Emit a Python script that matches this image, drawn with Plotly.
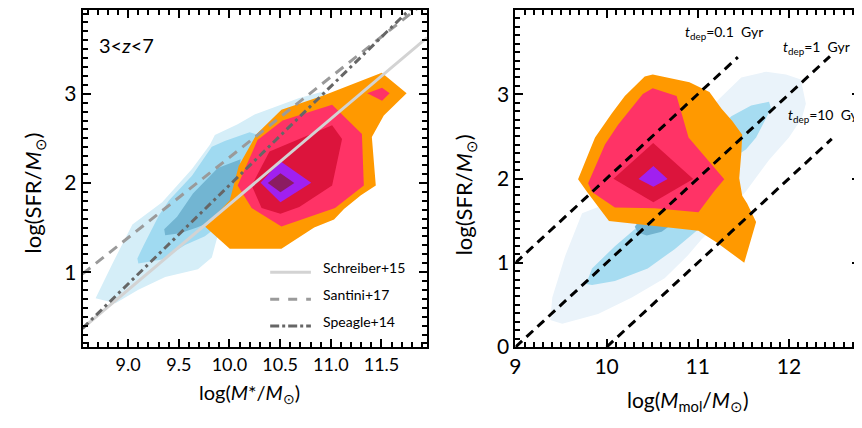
import plotly.graph_objects as go

FONT = "Lato"

# ---------------- Left panel data (log M*, log SFR) ----------------
L_lblue_x = [8.679, 8.875, 9.101, 9.366, 9.689, 9.826, 9.885, 10.150, 10.738, 11.032, 10.934, 10.689, 10.248, 10.081, 9.856, 9.807, 9.630, 9.336, 9.042, 8.846]
L_lblue_y = [0.706, 0.651, 0.804, 0.945, 1.033, 1.164, 1.414, 1.589, 2.189, 2.898, 3.028, 2.952, 2.767, 2.658, 2.538, 2.429, 2.156, 1.785, 1.534, 1.098]
L_mblue_x = [9.101, 9.336, 9.562, 9.758, 9.905, 10.150, 10.346, 10.199, 9.954, 9.826, 9.630, 9.405, 9.307, 9.150, 9.091]
L_mblue_y = [1.098, 1.142, 1.305, 1.403, 1.534, 2.080, 2.516, 2.570, 2.472, 2.407, 2.080, 1.807, 1.643, 1.294, 1.153]
L_dblue_x = [9.366, 9.513, 9.679, 9.875, 10.032, 10.111, 9.885, 9.640, 9.483, 9.356]
L_dblue_y = [1.414, 1.436, 1.502, 1.589, 1.698, 2.265, 2.167, 1.883, 1.622, 1.480]
L_orange_x = [10.268, 10.513, 10.934, 11.503, 11.748, 11.523, 11.405, 11.444, 11.297, 11.130, 11.032, 10.836, 10.513, 10.003, 9.758, 10.003, 10.091]
L_orange_y = [2.549, 2.821, 2.985, 3.236, 3.007, 2.756, 2.516, 1.971, 1.862, 1.709, 1.589, 1.502, 1.262, 1.262, 1.513, 1.807, 2.189]
L_pink_x = [10.524, 11.013, 11.307, 11.326, 11.042, 10.513, 10.219, 10.081, 10.277]
L_pink_y = [2.701, 2.876, 2.549, 1.971, 1.720, 1.513, 1.720, 1.971, 2.483]
L_pink2_x = [11.359, 11.506, 11.581, 11.506]
L_pink2_y = [3.007, 3.069, 3.007, 2.923]
L_crimson_x = [11.013, 11.111, 11.013, 10.689, 10.503, 10.317, 10.219, 10.395]
L_crimson_y = [2.647, 2.494, 1.971, 1.731, 1.654, 1.720, 1.971, 2.352]
L_purple_x = [10.503, 10.807, 10.503, 10.307]
L_purple_y = [2.243, 2.003, 1.785, 2.003]
L_maroon_x = [10.503, 10.640, 10.503, 10.378]
L_maroon_y = [2.109, 2.000, 1.897, 2.000]

# main-sequence relations (end points)
schreiber_x = [8.55, 11.95]
schreiber_y = [0.37, 3.63]
santini_x = [8.55, 12.0]
santini_y = [0.98, 4.09]
speagle_x = [8.55, 12.0]
speagle_y = [0.37, 4.19]

# ---------------- Right panel data (log Mmol, log SFR) ----------------
R_lblue_x = [9.382, 9.513, 9.906, 10.277, 10.637, 10.888, 11.040, 11.259, 11.531, 11.782, 12.000, 12.142, 12.186, 12.131, 11.968, 11.750, 11.477, 11.237, 11.040, 10.386, 9.949, 9.731, 9.546, 9.404]
R_lblue_y = [0.322, 0.276, 0.391, 0.587, 0.817, 1.082, 1.277, 1.507, 1.853, 2.221, 2.486, 2.716, 2.888, 3.176, 3.234, 3.268, 3.199, 2.946, 2.716, 2.025, 1.680, 1.588, 1.082, 0.587]
R_mblue_x = [9.775, 9.840, 10.091, 10.451, 10.746, 10.931, 11.040, 11.455, 11.531, 11.640, 11.750, 11.804, 11.782, 11.586, 11.368, 11.040, 10.495, 10.353, 10.091, 9.840]
R_mblue_y = [0.748, 0.736, 0.783, 0.932, 1.162, 1.335, 1.427, 2.290, 2.348, 2.486, 2.716, 2.831, 2.911, 2.865, 2.739, 2.371, 1.623, 1.438, 1.197, 0.932]
R_dblue_x = [10.309, 10.342, 10.440, 10.604, 10.735, 10.604, 10.386]
R_dblue_y = [1.427, 1.358, 1.323, 1.369, 1.473, 1.565, 1.542]
R_orange_x = [9.687, 9.873, 10.058, 10.200, 10.418, 10.506, 10.909, 11.128, 11.259, 11.379, 11.488, 11.477, 11.455, 11.488, 11.542, 11.640, 11.510, 11.204, 11.008, 10.026, 9.786]
R_orange_y = [1.991, 2.486, 2.773, 2.980, 3.211, 3.234, 3.142, 3.026, 2.831, 2.681, 2.520, 2.290, 2.002, 1.795, 1.703, 1.484, 1.001, 1.243, 1.381, 1.496, 1.841]
R_pink_x = [9.797, 9.982, 10.124, 10.397, 10.506, 10.768, 10.899, 11.291, 11.182, 11.008, 10.528, 10.091, 9.840]
R_pink_y = [1.945, 2.405, 2.635, 3.003, 3.072, 2.980, 2.486, 1.991, 1.853, 1.600, 1.646, 1.657, 1.841]
R_crimson_x = [10.075, 10.511, 10.950, 10.513]
R_crimson_y = [1.997, 2.422, 1.994, 1.718]
R_purple_x = [10.350, 10.513, 10.669, 10.513]
R_purple_y = [1.994, 2.148, 1.994, 1.902]

# depletion-time lines
tdep_labels = ["0.1", "1", "10"]
tdep01_x = [9.0, 11.44]
tdep01_y = [1.0, 3.44]
tdep1_x = [9.0, 12.45]
tdep1_y = [0.0, 3.45]
tdep10_x = [10.0, 12.47]
tdep10_y = [0.0, 2.47]

# ---------------- figure ----------------
fig = go.Figure()

def poly(x, y, color, xa, ya):
    fig.add_trace(go.Scatter(x=x, y=y, fill="toself", fillcolor=color, mode="lines",
                             line=dict(width=0, color=color), xaxis=xa, yaxis=ya,
                             showlegend=False, hoverinfo="skip"))

# left panel
poly(L_lblue_x, L_lblue_y, "#D5EEF8", "x", "y")
poly(L_mblue_x, L_mblue_y, "#A0DAF1", "x", "y")
poly(L_dblue_x, L_dblue_y, "#72B5D2", "x", "y")
poly(L_orange_x, L_orange_y, "#FF9900", "x", "y")
poly(L_pink_x, L_pink_y, "#FF3366", "x", "y")
poly(L_pink2_x, L_pink2_y, "#FF3366", "x", "y")
poly(L_crimson_x, L_crimson_y, "#DC143C", "x", "y")
poly(L_purple_x, L_purple_y, "#A020F0", "x", "y")
poly(L_maroon_x, L_maroon_y, "#8B1C62", "x", "y")

fig.add_trace(go.Scatter(x=schreiber_x, y=schreiber_y, mode="lines",
                         line=dict(color="#D3D3D3", width=3), xaxis="x", yaxis="y",
                         showlegend=False, hoverinfo="skip"))
fig.add_trace(go.Scatter(x=santini_x, y=santini_y, mode="lines",
                         line=dict(color="#9A9A9A", width=3, dash="10px,7px"), xaxis="x", yaxis="y",
                         showlegend=False, hoverinfo="skip"))
fig.add_trace(go.Scatter(x=speagle_x, y=speagle_y, mode="lines",
                         line=dict(color="#666666", width=3, dash="8px,4px,3px,4px"), xaxis="x", yaxis="y",
                         showlegend=False, hoverinfo="skip"))

# right panel
poly(R_lblue_x, R_lblue_y, "#EAF3FA", "x2", "y2")
poly(R_mblue_x, R_mblue_y, "#A6DCF1", "x2", "y2")
poly(R_dblue_x, R_dblue_y, "#72B3CF", "x2", "y2")
poly(R_orange_x, R_orange_y, "#FF9900", "x2", "y2")
poly(R_pink_x, R_pink_y, "#FF3366", "x2", "y2")
poly(R_crimson_x, R_crimson_y, "#DC143C", "x2", "y2")
poly(R_purple_x, R_purple_y, "#A020F0", "x2", "y2")

for tx, ty in [(tdep01_x, tdep01_y), (tdep1_x, tdep1_y), (tdep10_x, tdep10_y)]:
    fig.add_trace(go.Scatter(x=tx, y=ty, mode="lines",
                             line=dict(color="black", width=3, dash="9px,6px"),
                             xaxis="x2", yaxis="y2", showlegend=False, hoverinfo="skip"))

# the page body adds an 8px margin around the figure
OFF = 8
W, H = 862 - OFF, 428 - OFF

def px(v):
    return (v - OFF) / W

def py(v):
    return 1 - (v - OFF) / H

def axis(rng, dtick, tick0, fsize, fmt=None, domain=None, anchor=None):
    d = dict(range=rng, dtick=dtick, tick0=tick0, showline=True, linecolor="black",
             linewidth=2, mirror="allticks", ticks="inside", ticklen=8, tickwidth=2,
             tickcolor="black", showgrid=False, zeroline=False,
             minor=dict(ticks="inside", ticklen=5, tickwidth=1.5, tickcolor="black", dtick=0.1, showgrid=False),
             tickfont=dict(family=FONT, size=fsize, color="black"), domain=domain, anchor=anchor)
    if fmt:
        d["tickformat"] = fmt
    return d

ydom = [py(356), py(9)]
fig.update_layout(
    width=W, height=H, margin=dict(l=0, r=0, t=0, b=0),
    paper_bgcolor="white", plot_bgcolor="white",
    xaxis=axis([8.55, 11.95], 0.5, 9.0, 18, ".1f", [px(77), px(424)], "y"),
    yaxis=axis([0.16, 3.94], 1, 0, 21, None, ydom, "x"),
    xaxis2=axis([9.0, 12.78], 1, 9, 21, None, [px(513), px(860)], "y2"),
    yaxis2=axis([0.0, 4.0], 1, 0, 21, None, ydom, "x2"),
)

ann = []
def text(x, y, s, size, xanchor="center", textangle=0):
    ann.append(dict(x=px(x), y=py(y), xref="paper", yref="paper", text=s, showarrow=False,
                    font=dict(family=FONT, size=size, color="black"), xanchor=xanchor,
                    yanchor="middle", textangle=textangle))

text(28, 197, "log(SFR/<i>M</i><sub>⊙</sub>)", 22, textangle=-90)
text(462, 199, "log(SFR/<i>M</i><sub>⊙</sub>)", 22, textangle=-90)
text(245, 404, "log(<i>M</i>*/<i>M</i><sub>⊙</sub>)", 20)
text(687, 412, "log(<i>M</i><sub>mol</sub>/<i>M</i><sub>⊙</sub>)", 21)
text(92, 45, "3&lt;<i>z</i>&lt;7", 20, xanchor="left")

legend_items = [("Schreiber+15", 279, 274, dict(color="#D3D3D3", width=3)),
                ("Santini+17", 306.7, 301.7, dict(color="#9A9A9A", width=3, dash="dash")),
                ("Speagle+14", 334.3, 330, dict(color="#666666", width=3, dash="dashdot"))]
shapes = []
for lab, ly, ty, ln in legend_items:
    shapes.append(dict(type="line", xref="paper", yref="paper", x0=px(266), x1=px(307),
                       y0=py(ly), y1=py(ly), line=ln))
    text(317, ty, lab, 14, xanchor="left")

sub = "<i>t</i><sub>dep</sub>"
text(682, 32, sub + "=" + tdep_labels[0] + "\u00a0 Gyr", 14, xanchor="left")
text(780, 48, sub + "=" + tdep_labels[1] + "\u00a0 Gyr", 14, xanchor="left")
text(785, 118, sub + "=" + tdep_labels[2] + "\u00a0 Gyr", 14, xanchor="left")

fig.update_layout(annotations=ann, shapes=shapes)
fig.write_html("out.html")
